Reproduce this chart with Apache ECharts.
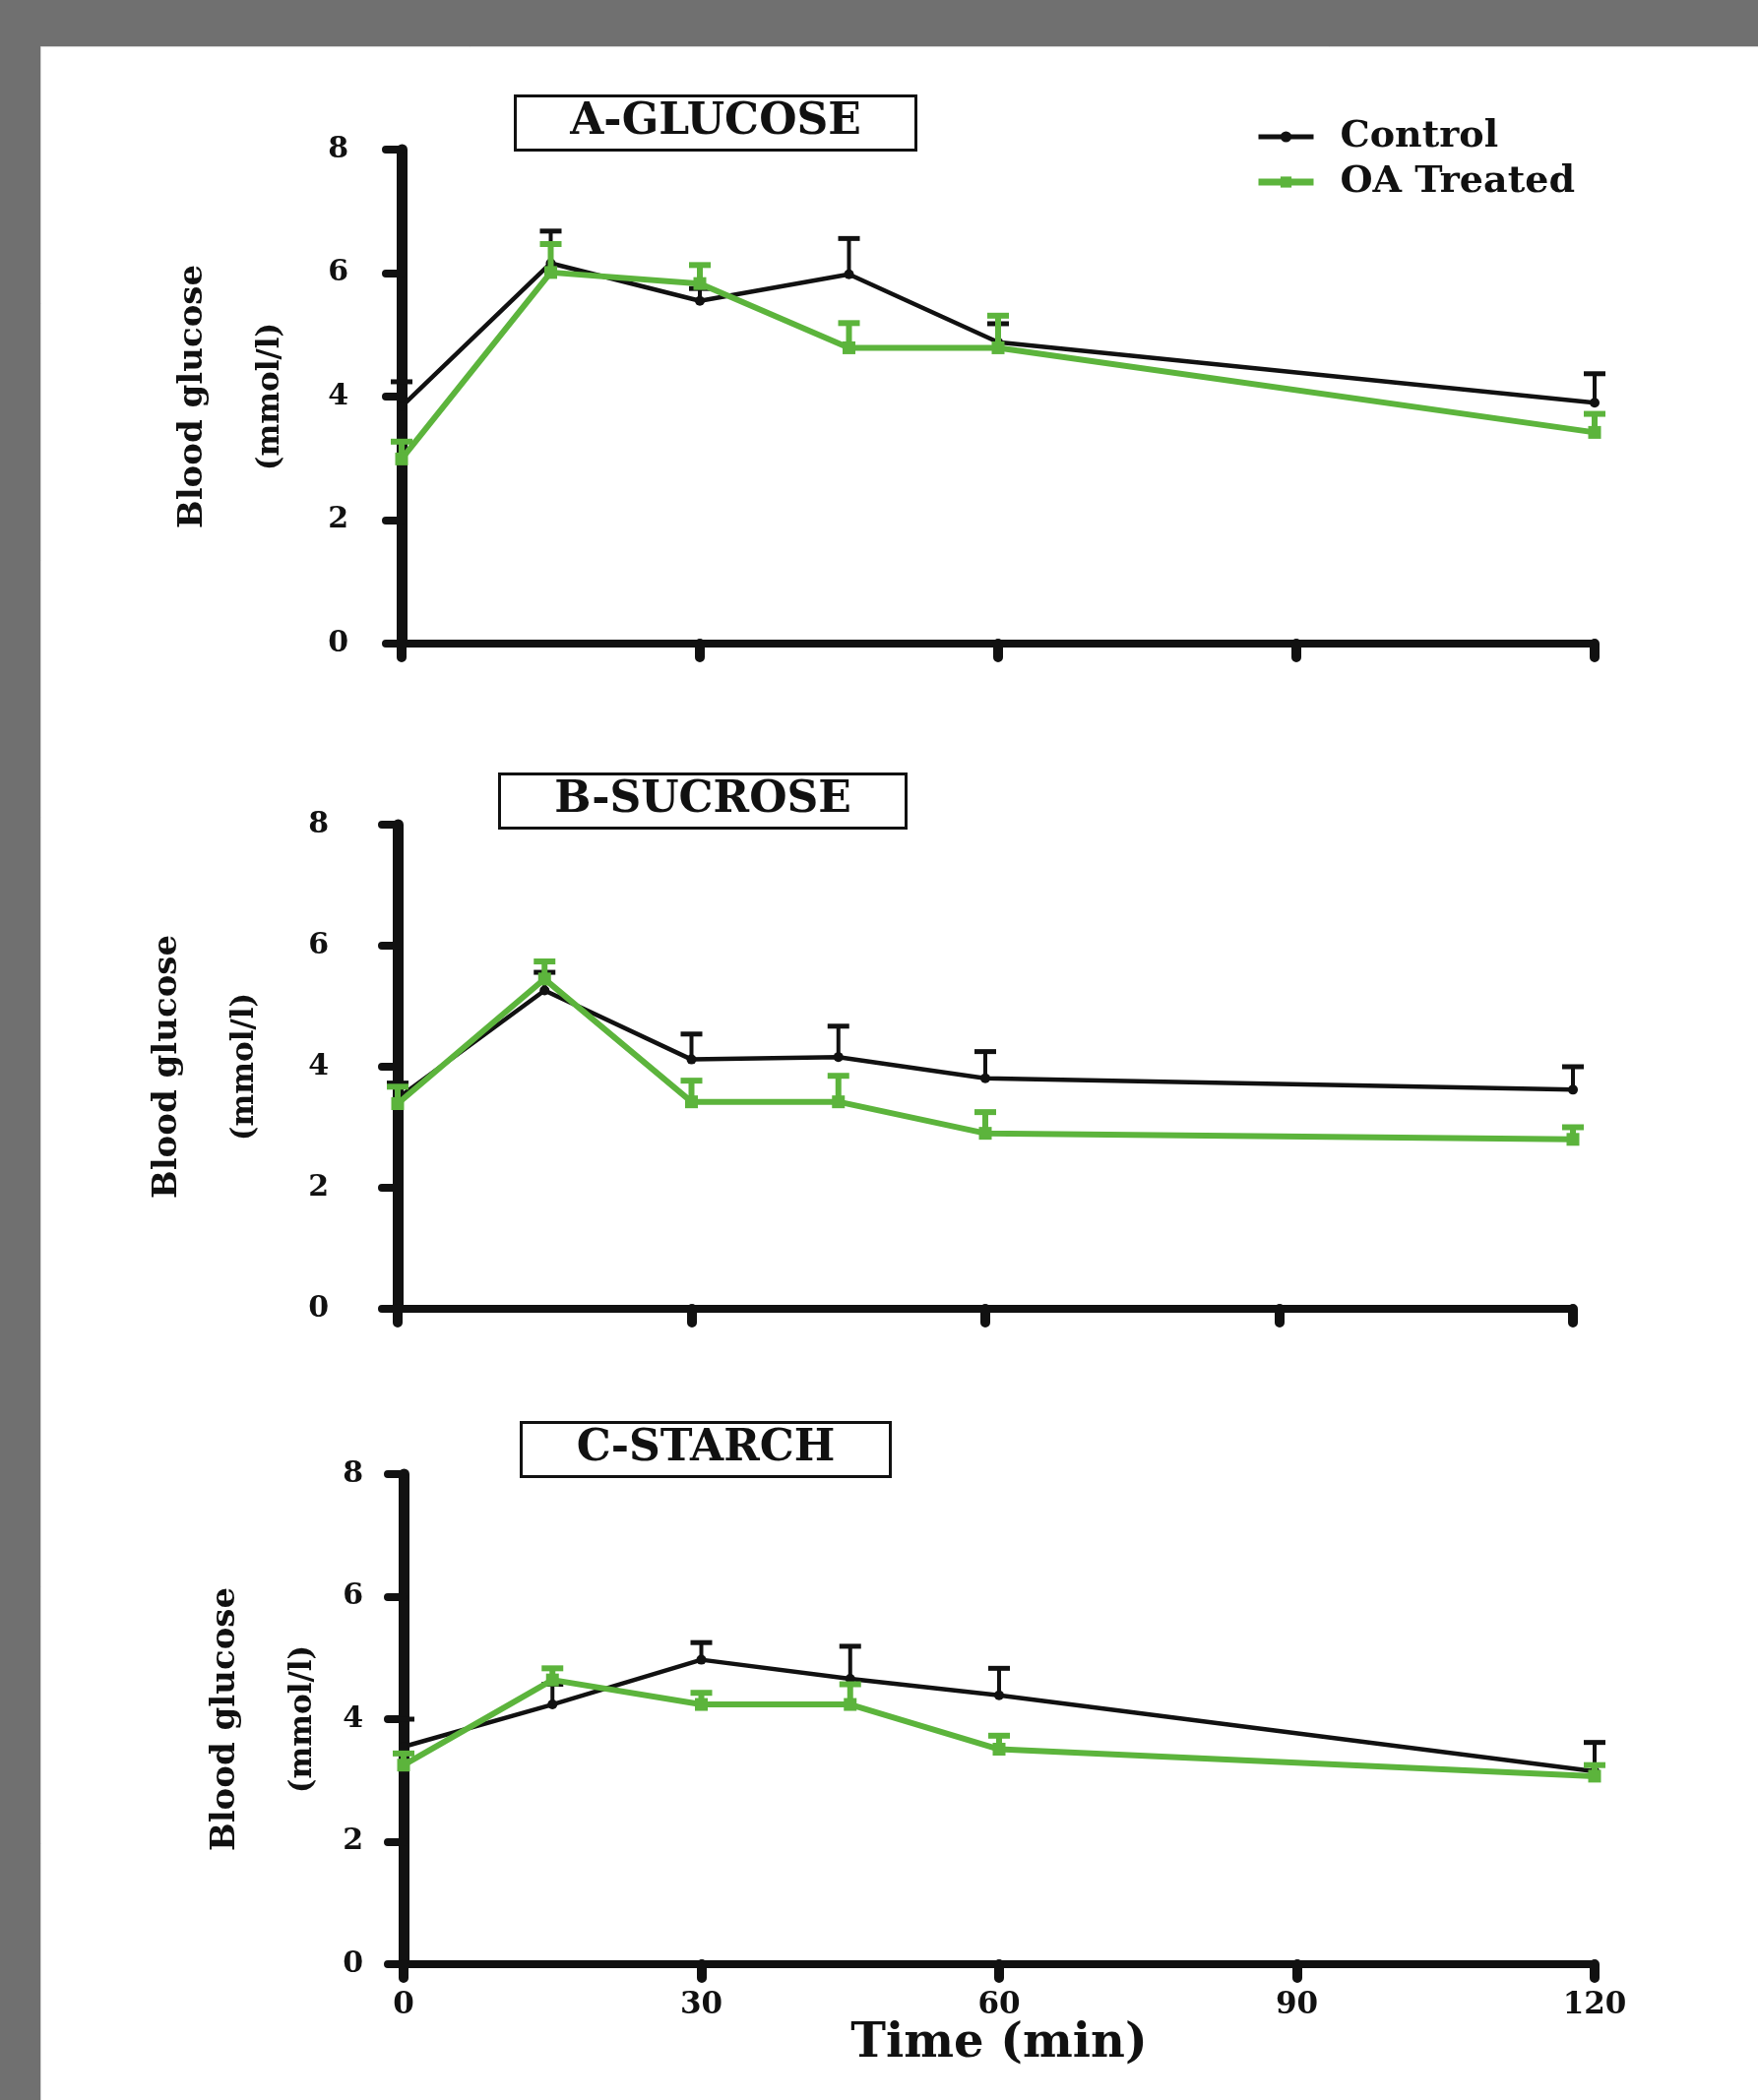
<!DOCTYPE html>
<html>
<head>
<meta charset="utf-8">
<script src="https://cdn.jsdelivr.net/npm/echarts@6/dist/echarts.min.js"></script>
<style>
html,body{margin:0;padding:0;background:#707070;}
#chart{width:1786px;height:2134px;}
</style>
</head>
<body>
<div id="chart"></div>
<script>
// ---------------- data ----------------
const times = [0, 15, 30, 45, 60, 120];
const xTickValues = [0, 30, 60, 90, 120];
const yTickValues = [0, 2, 4, 6, 8];
const panelTitles = ['A-GLUCOSE', 'B-SUCROSE', 'C-STARCH'];
const groupNames = ['Control', 'OA Treated'];
const yAxisTitle = 'Blood glucose';
const yAxisUnit = '(mmol/l)';
const xAxisTitle = 'Time (min)';

const glucoseControl    = [3.84, 6.16, 5.55, 5.98, 4.88, 3.90];
const glucoseControlSem = [0.40, 0.52, 0.20, 0.58, 0.30, 0.47];
const glucoseOA         = [2.99, 6.01, 5.83, 4.79, 4.79, 3.42];
const glucoseOASem      = [0.28, 0.46, 0.30, 0.40, 0.52, 0.30];

const sucroseControl    = [3.48, 5.26, 4.12, 4.16, 3.81, 3.62];
const sucroseControlSem = [0.25, 0.30, 0.42, 0.51, 0.44, 0.38];
const sucroseOA         = [3.39, 5.45, 3.42, 3.42, 2.90, 2.80];
const sucroseOASem      = [0.28, 0.29, 0.35, 0.43, 0.35, 0.20];

const starchControl     = [3.55, 4.24, 4.97, 4.66, 4.39, 3.15];
const starchControlSem  = [0.45, 0.33, 0.28, 0.53, 0.44, 0.47];
const starchOA          = [3.25, 4.64, 4.24, 4.24, 3.51, 3.07];
const starchOASem       = [0.19, 0.19, 0.19, 0.33, 0.22, 0.18];

// ---------------- layout / style ----------------
const panels = [
  {title: panelTitles[0], ctrl: glucoseControl, ctrlSem: glucoseControlSem, oa: glucoseOA, oaSem: glucoseOASem,
   grid: {left: 408, top: 152, width: 1212, height: 502}, titleCenter: 727, titleTop: 97, nameGap: 111, labelMargin: 54, showX: false},
  {title: panelTitles[1], ctrl: sucroseControl, ctrlSem: sucroseControlSem, oa: sucroseOA, oaSem: sucroseOASem,
   grid: {left: 404, top: 838, width: 1194, height: 492}, titleCenter: 714, titleTop: 786, nameGap: 133, labelMargin: 70, showX: false},
  {title: panelTitles[2], ctrl: starchControl, ctrlSem: starchControlSem, oa: starchOA, oaSem: starchOASem,
   grid: {left: 410, top: 1498, width: 1210, height: 498}, titleCenter: 717, titleTop: 1445, nameGap: 80, labelMargin: 41, showX: true}
];

const FONT = 'DejaVu Serif';
const BLACK = '#111111';
const GREEN = '#5CB43C';
const TITLE_PAD = 56;

function errRender(color, stemW, capW, capLen) {
  return function (params, api) {
    const x = api.value(0), y = api.value(1), e = api.value(2);
    const p0 = api.coord([x, y]);
    const p1 = api.coord([x, y + e]);
    return {
      type: 'group',
      children: [
        {type: 'line', shape: {x1: p0[0], y1: p0[1], x2: p1[0], y2: p1[1]},
         style: {stroke: color, lineWidth: stemW}},
        {type: 'line', shape: {x1: p1[0] - capLen / 2, y1: p1[1], x2: p1[0] + capLen / 2, y2: p1[1]},
         style: {stroke: color, lineWidth: capW}}
      ]
    };
  };
}

const grids = [], xAxes = [], yAxes = [], titles = [], series = [];
panels.forEach(function (p, i) {
  grids.push(Object.assign({}, p.grid, {containLabel: false}));
  titles.push({
    text: p.title,
    left: p.titleCenter - TITLE_PAD,
    top: p.titleTop,
    textAlign: 'center',
    padding: [4, TITLE_PAD, 4, TITLE_PAD],
    borderColor: BLACK,
    borderWidth: 3,
    backgroundColor: '#ffffff',
    textStyle: {fontFamily: FONT, fontWeight: 'bold', fontSize: 44, lineHeight: 48, color: BLACK}
  });
  xAxes.push({
    gridIndex: i, type: 'value',
    min: xTickValues[0], max: xTickValues[xTickValues.length - 1],
    interval: xTickValues[1] - xTickValues[0],
    splitLine: {show: false},
    axisLine: {show: true, onZero: false, lineStyle: {color: BLACK, width: 8, cap: 'round'}},
    axisTick: {show: true, inside: false, length: 14, lineStyle: {color: BLACK, width: 10, cap: 'round'}},
    axisLabel: {show: p.showX, margin: 26, color: BLACK, fontFamily: FONT, fontWeight: 'bold', fontSize: 31},
    name: p.showX ? xAxisTitle : '',
    nameLocation: 'middle',
    nameGap: 50,
    nameTextStyle: {fontFamily: FONT, fontWeight: 'bold', fontSize: 48, color: BLACK}
  });
  yAxes.push({
    gridIndex: i, type: 'value',
    min: yTickValues[0], max: yTickValues[yTickValues.length - 1],
    interval: yTickValues[1] - yTickValues[0],
    splitLine: {show: false},
    axisLine: {show: true, onZero: false, lineStyle: {color: BLACK, width: 11, cap: 'round'}},
    axisTick: {show: true, inside: false, length: 16, lineStyle: {color: BLACK, width: 8, cap: 'round'}},
    axisLabel: {margin: p.labelMargin, color: BLACK, fontFamily: FONT, fontWeight: 'bold', fontSize: 30},
    name: '{a|' + yAxisTitle + '}\n{b|' + yAxisUnit + '}',
    nameLocation: 'middle',
    nameRotate: 90,
    nameGap: p.nameGap,
    nameMoveOverlap: false,
    nameTextStyle: {
      color: BLACK,
      rich: {
        a: {fontFamily: FONT, fontWeight: 'bold', fontSize: 34, lineHeight: 114, color: BLACK},
        b: {fontFamily: FONT, fontWeight: 'bold', fontSize: 31, lineHeight: 44, color: BLACK}
      }
    }
  });
  const ctrlPts = times.map(function (t, k) { return [t, p.ctrl[k]]; });
  const ctrlErr = times.map(function (t, k) { return [t, p.ctrl[k], p.ctrlSem[k]]; });
  const oaPts = times.map(function (t, k) { return [t, p.oa[k]]; });
  const oaErr = times.map(function (t, k) { return [t, p.oa[k], p.oaSem[k]]; });
  series.push({
    name: groupNames[0], type: 'line', xAxisIndex: i, yAxisIndex: i, data: ctrlPts,
    symbol: 'circle', symbolSize: 10, showSymbol: true,
    lineStyle: {color: BLACK, width: 4.5}, itemStyle: {color: BLACK}, z: 3
  });
  series.push({
    name: groupNames[0] + ' SEM', type: 'custom', xAxisIndex: i, yAxisIndex: i, data: ctrlErr,
    renderItem: errRender(BLACK, 4, 5, 22), encode: {x: 0, y: 1}, clip: false, z: 3
  });
  series.push({
    name: groupNames[1], type: 'line', xAxisIndex: i, yAxisIndex: i, data: oaPts,
    symbol: 'rect', symbolSize: 13, showSymbol: true,
    lineStyle: {color: GREEN, width: 6}, itemStyle: {color: GREEN}, z: 4
  });
  series.push({
    name: groupNames[1] + ' SEM', type: 'custom', xAxisIndex: i, yAxisIndex: i, data: oaErr,
    renderItem: errRender(GREEN, 6, 6, 22), encode: {x: 0, y: 1}, clip: false, z: 4
  });
});

const chart = echarts.init(document.getElementById('chart'), null, {renderer: 'canvas', width: 1786, height: 2134});
chart.setOption({
  animation: false,
  backgroundColor: '#707070',
  graphic: [{
    type: 'rect', left: 41, top: 47, z: -10,
    shape: {width: 1745, height: 2087},
    style: {fill: '#ffffff', stroke: '#d8d8d8', lineWidth: 1}
  }],
  title: titles,
  legend: {
    data: [
      {name: groupNames[0], lineStyle: {width: 5, color: BLACK}, itemStyle: {color: BLACK}},
      {name: groupNames[1], lineStyle: {width: 7, color: GREEN}, itemStyle: {color: GREEN}}
    ],
    orient: 'vertical',
    left: 1270,
    top: 115,
    itemWidth: 56,
    itemHeight: 14,
    itemGap: 8,
    textStyle: {fontFamily: FONT, fontWeight: 'bold', fontSize: 38, color: BLACK, padding: [0, 0, 0, 22]}
  },
  grid: grids,
  xAxis: xAxes,
  yAxis: yAxes,
  series: series
});
</script>
</body>
</html>
